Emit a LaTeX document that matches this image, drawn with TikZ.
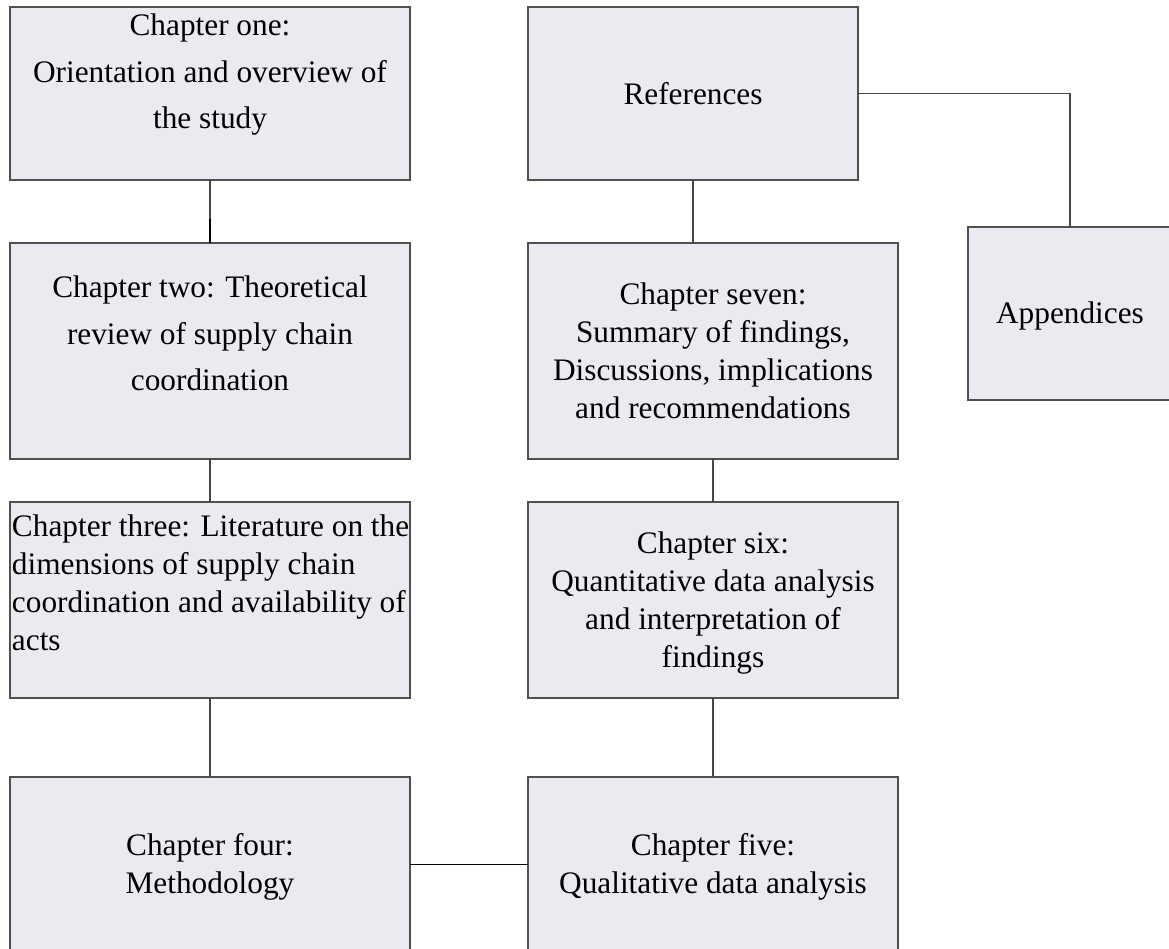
\documentclass[tikz,border=0pt]{standalone}
\usepackage{fontspec}
\setmainfont{Liberation Serif}
\usetikzlibrary{calc}

\definecolor{boxfill}{RGB}{236,233,240}
\definecolor{boxline}{RGB}{80,80,80}
\definecolor{linkline}{RGB}{70,70,70}

\tikzset{
  box/.style={draw=boxline, line width=1.3pt, fill=boxfill, rectangle,
              inner sep=0pt, outer sep=0pt},
  txt/.style={inner sep=0pt, outer sep=0pt, align=center,
              font={\fontsize{31.3}{38}\selectfont}},
  txtwide/.style={txt, font={\fontsize{31.3}{46.5}\selectfont}},
  link/.style={draw=linkline, line width=1.2pt},
}

\begin{document}
\begin{tikzpicture}[x=1pt, y=-1pt]
  \useasboundingbox (0,0) rectangle (1169,949);
  \fill[white] (0,0) rectangle (1169,949);
  \clip (0,0) rectangle (1169,949);

  % left column
  \node[box, minimum width=400pt, minimum height=173pt] (one)   at (210,93.5) {};
  \node[box, minimum width=400pt, minimum height=216pt] (two)   at (210,351) {};
  \node[box, minimum width=400pt, minimum height=196pt] (three) at (210,600) {};
  \node[box, minimum width=400pt, minimum height=175pt] (four)  at (210,864.5) {};

  % right column
  \node[box, minimum width=330pt, minimum height=173pt] (refs)  at (693,93.5) {};
  \node[box, minimum width=370pt, minimum height=216pt] (seven) at (713,351) {};
  \node[box, minimum width=370pt, minimum height=196pt] (six)   at (713,600) {};
  \node[box, minimum width=370pt, minimum height=175pt] (five)  at (713,864.5) {};
  % the appendices box runs off the right-hand edge
  \node[box, minimum width=232pt, minimum height=173pt] (app)   at (1084,313.5) {};

  % box texts
  \node[txtwide, anchor=north] (one-t) at ($(one.north)+(0,7)$)
    {Chapter one:\\Orientation and overview of\\the study};
  \node[txtwide, anchor=north] (two-t) at ($(two.north)+(0,33)$)
    {Chapter two: Theoretical\\review of supply chain\\coordination};
  \node[txt, anchor=north west, align=left] (three-t) at ($(three.north west)+(2,13)$)
    {Chapter three: Literature on the\\dimensions of supply chain\\coordination and availability of\\acts};
  \node[txt, anchor=north] (four-t) at ($(four.north)+(0,56)$)
    {Chapter four:\\Methodology};
  \node[txt, anchor=north] (refs-t) at ($(refs.north)+(0,75)$) {References};
  \node[txt, anchor=north] (seven-t) at ($(seven.north)+(0,40)$)
    {Chapter seven:\\Summary of findings,\\Discussions, implications\\and recommendations};
  \node[txt, anchor=north] (six-t) at ($(six.north)+(0,30)$)
    {Chapter six:\\Quantitative data analysis\\and interpretation of\\findings};
  \node[txt, anchor=north] (five-t) at ($(five.north)+(0,56)$)
    {Chapter five:\\Qualitative data analysis};
  \node[txt, anchor=north] (app-t) at ($(app.north)+(-14,75)$) {Appendices};

  % connectors
  \draw[link] (one.south) -- (two.north);
  \draw[black, line width=1.6pt] ($(two.north)+(0,-24)$) -- (two.north);
  \draw[link] (two.south) -- (three.north);
  \draw[link] (three.south) -- (four.north);
  \draw[link, draw=black] (four.east) -- (five.west);
  \draw[link] (five.north) -- (six.south);
  \draw[link] (six.north) -- (seven.south);
  \draw[link] (refs.south) -- (refs.south |- seven.north);
  \draw[link] (refs.east) -| (app-t |- app.north);
\end{tikzpicture}
\end{document}
